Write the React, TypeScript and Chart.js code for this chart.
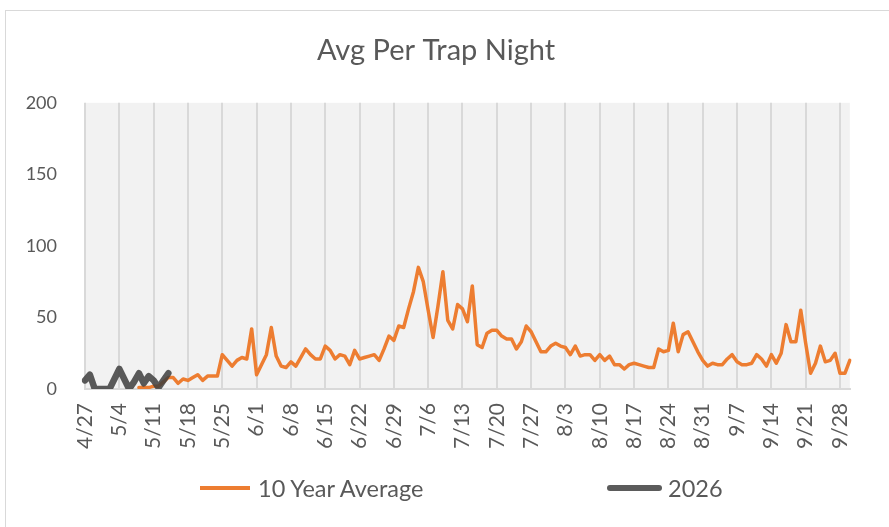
import React, { useEffect, useRef } from 'react';
import { Chart, registerables } from 'chart.js';

Chart.register(...registerables);

// Daily categories from 4/27 through 10/1
const dayCount = 157;
const dayLabels: string[] = (() => {
  const out: string[] = [];
  const d = new Date(2026, 3, 27);
  for (let i = 0; i < dayCount; i++) {
    out.push(`${d.getMonth() + 1}/${d.getDate()}`);
    d.setDate(d.getDate() + 1);
  }
  return out;
})();

// Weekly tick labels shown on the axis
const weekTickLabels = [
  '4/27', '5/4', '5/11', '5/18', '5/25', '6/1', '6/8', '6/15', '6/22', '6/29',
  '7/6', '7/13', '7/20', '7/27', '8/3', '8/10', '8/17', '8/24', '8/31', '9/7',
  '9/14', '9/21', '9/28',
];

const yTicks = [0, 50, 100, 150, 200];

// 10 Year Average (starts on day 11)
const avg10: (number | null)[] = [
  null, null, null, null, null, null, null, null, null, null, null,
  1, 1, 1, 2, 2, 5, 8, 8, 4, 7,
  6, 8, 10, 6, 9, 9, 9, 24, 20, 16,
  20, 22, 21, 42, 10, 17, 24, 43, 23, 16,
  15, 19, 16, 22, 28, 24, 21, 21, 30, 27,
  21, 24, 23, 17, 27, 21, 22, 23, 24, 20,
  28, 37, 34, 44, 43, 56, 68, 85, 75, 55,
  36, 58, 82, 48, 42, 59, 56, 47, 72, 31,
  29, 39, 41, 41, 37, 35, 35, 28, 33, 44,
  40, 33, 26, 26, 30, 32, 30, 29, 24, 30,
  23, 24, 24, 20, 24, 20, 23, 17, 17, 14,
  17, 18, 17, 16, 15, 15, 28, 26, 27, 46,
  26, 38, 40, 33, 26, 20, 16, 18, 17, 17,
  21, 24, 19, 17, 17, 18, 24, 21, 16, 24,
  18, 25, 45, 33, 33, 55, 32, 11, 18, 30,
  19, 20, 25, 11, 11, 20,
];

// 2026 season so far
const y2026: number[] = [6, 10, 0, 0, 0, 0, 7, 14, 7, 0, 5, 11, 4, 9, 6, 1, 6, 11];

const TEXT = '#595959';
const FONT = 'Lato';
const ORANGE = '#ED7D31';
const DARK = 'rgba(62,62,62,0.85)';

const plotBg = {
  id: 'plotBg',
  beforeDraw(chart: any) {
    const { ctx, chartArea } = chart;
    ctx.save();
    ctx.fillStyle = '#f2f2f2';
    ctx.fillRect(chartArea.left, chartArea.top, chartArea.right - chartArea.left, chartArea.bottom - chartArea.top);
    ctx.restore();
  },
};

export default function App() {
  const ref = useRef<HTMLCanvasElement | null>(null);

  useEffect(() => {
    document.body.style.margin = '0';
    if (!ref.current) return;
    const chart = new Chart(ref.current, {
      type: 'line',
      data: {
        labels: dayLabels,
        datasets: [
          {
            label: '10 Year Average',
            data: avg10,
            borderColor: ORANGE,
            backgroundColor: ORANGE,
            borderWidth: 3.5,
            pointRadius: 0,
            tension: 0,
            borderJoinStyle: 'round',
            borderCapStyle: 'round',
            order: 1,
          },
          {
            label: '2026',
            data: y2026,
            borderColor: DARK,
            backgroundColor: DARK,
            borderWidth: 6.5,
            pointRadius: 0,
            tension: 0,
            borderJoinStyle: 'round',
            borderCapStyle: 'round',
            order: 0,
          },
        ],
      },
      options: {
        responsive: false,
        animation: false,
        devicePixelRatio: 1,
        layout: { padding: { left: 0, right: 17, top: 0, bottom: 60 } },
        plugins: {
          legend: { display: false },
          tooltip: { enabled: false },
          title: {
            display: true,
            text: 'Avg Per Trap Night',
            color: TEXT,
            font: { family: FONT, size: 29, weight: 'normal', lineHeight: 1.2 },
            padding: { top: 33, bottom: 35 },
          },
        },
        scales: {
          x: {
            type: 'category',
            offset: false,
            afterFit: (s: any) => { s.height = 78; },
            grid: {
              color: (c: any) => (c.index % 7 === 0 ? '#d9d9d9' : 'rgba(0,0,0,0)'),
              lineWidth: 2,
              drawTicks: false,
            },
            border: { display: true, color: '#d9d9d9', width: 2 },
            ticks: {
              autoSkip: false,
              maxRotation: 90,
              minRotation: 90,
              padding: 14,
              color: TEXT,
              font: { family: FONT, size: 21 },
              callback: (_v: any, i: number) => (i % 7 === 0 ? weekTickLabels[i / 7] : ''),
            },
          },
          y: {
            min: yTicks[0],
            max: yTicks[yTicks.length - 1],
            afterFit: (s: any) => { s.width = 85; },
            afterBuildTicks: (s: any) => { s.ticks = yTicks.map((v) => ({ value: v })); },
            grid: { display: false },
            border: { display: false },
            ticks: {
              padding: 20,
              color: TEXT,
              font: { family: FONT, size: 18 },
            },
          },
        },
      },
      plugins: [plotBg],
    });
    return () => chart.destroy();
  }, []);

  const legendText: React.CSSProperties = {
    position: 'absolute',
    fontFamily: FONT,
    fontSize: 23.5,
    color: TEXT,
    lineHeight: '26px',
    top: 475,
    whiteSpace: 'nowrap',
  };

  return (
    <div style={{ position: 'relative', width: 889, height: 527, overflow: 'hidden', background: '#fff' }}>
      <canvas ref={ref} width={889} height={527} style={{ position: 'absolute', left: 0, top: 0 }} />
      <div style={{ position: 'absolute', left: 5, top: 10, width: 1000, height: 1000, border: '1px solid #d9d9d9', pointerEvents: 'none' }} />
      <div style={{ position: 'absolute', left: 200, top: 486, width: 50, height: 3.5, background: ORANGE }} />
      <div style={{ ...legendText, left: 258 }}>10 Year Average</div>
      <div style={{ position: 'absolute', left: 607, top: 485, width: 55, height: 6, background: DARK, borderRadius: 3 }} />
      <div style={{ ...legendText, left: 668 }}>2026</div>
    </div>
  );
}
